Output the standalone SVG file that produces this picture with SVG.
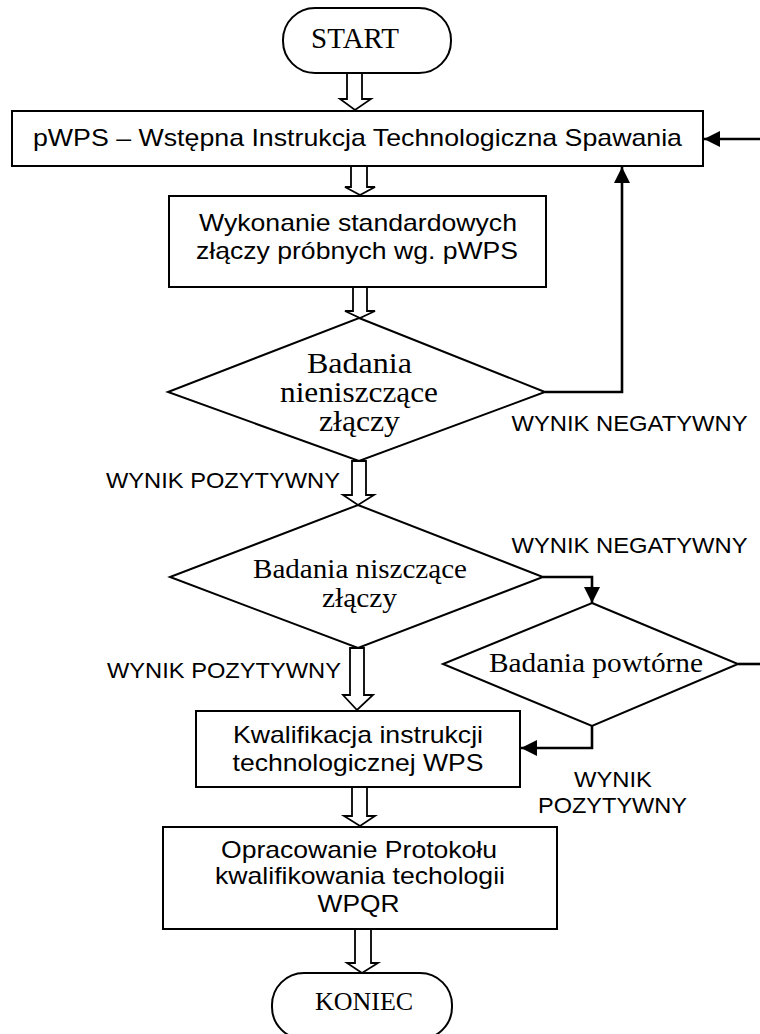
<svg xmlns="http://www.w3.org/2000/svg" width="760" height="1034" viewBox="0 0 760 1034">
<style>
.shape{fill:#fff;stroke:#000;stroke-width:2}
.hollow{fill:#fff;stroke:#000;stroke-width:1.8;stroke-linejoin:miter}
.conn{fill:none;stroke:#000;stroke-width:2.6}
.sans{font-family:"Liberation Sans",Arial,sans-serif;fill:#000;text-anchor:middle}
.serif{font-family:"Liberation Serif","Times New Roman",serif;fill:#000;text-anchor:middle}
.box{font-size:24px}
.lbl{font-size:22.5px}
</style>
<defs>
<marker id="ah" viewBox="0 0 16 16" refX="16" refY="8" markerWidth="16" markerHeight="16" markerUnits="userSpaceOnUse" orient="auto">
<path d="M0,0 L16,8 L0,16 Z" fill="#000"/>
</marker>
</defs>

<g id="connectors">
<path class="hollow" d="M347,73 L347,99 L340,99 L355,110 L371,99 L362,99 L362,73 Z"/>
<path class="hollow" d="M351,166 L351,187 L345,187 L360,195 L375,187 L367,187 L367,166 Z"/>
<path class="hollow" d="M353,287 L353,311 L345,311 L360,318 L375,311 L367,311 L367,287 Z"/>
<path class="hollow" d="M352,461 L352,495 L343,495 L358,505 L374,495 L366,495 L366,461 Z"/>
<path class="hollow" d="M350,648 L350,695 L343,695 L357,710 L373,695 L364,695 L364,648 Z"/>
<path class="hollow" d="M352,787 L352,816 L344,816 L360,826 L375,816 L367,816 L367,787 Z"/>
<path class="hollow" d="M355,929 L355,963 L347,963 L362,973 L378,963 L371,963 L371,929 Z"/>
<path class="conn" d="M760,139 L704,139" marker-end="url(#ah)"/>
<path class="conn" d="M545,392 L622,392 L622,167" marker-end="url(#ah)"/>
<path class="conn" d="M543,577 L592,577 L592,603" marker-end="url(#ah)"/>
<path class="conn" d="M738,664 L760,664"/>
<path class="conn" d="M592,726 L592,748 L521,748" marker-end="url(#ah)"/>
</g>

<g id="start">
<rect class="shape" x="283" y="8" width="168" height="65" rx="32" ry="32"/>
<text class="serif" x="355" y="48" font-size="29">START</text>
</g>

<g id="pwps">
<rect class="shape" x="12" y="111" width="691" height="55"/>
<text class="sans box" x="357.5" y="146" textLength="649" lengthAdjust="spacingAndGlyphs">pWPS – Wstępna Instrukcja Technologiczna Spawania</text>
</g>

<g id="wykonanie">
<rect class="shape" x="169" y="196" width="377" height="91"/>
<text class="sans box" x="358" y="231" textLength="318" lengthAdjust="spacingAndGlyphs">Wykonanie standardowych</text>
<text class="sans box" x="357" y="259" textLength="322" lengthAdjust="spacingAndGlyphs">złączy próbnych wg. pWPS</text>
</g>

<g id="badania-nieniszczace">
<polygon class="shape" points="359,318 545,392 359,461 168,392"/>
<text class="serif" x="359.5" y="373" font-size="28.5" textLength="105" lengthAdjust="spacingAndGlyphs">Badania</text>
<text class="serif" x="359" y="402" font-size="28.5" textLength="158" lengthAdjust="spacingAndGlyphs">nieniszczące</text>
<text class="serif" x="359.5" y="431" font-size="28.5" textLength="81" lengthAdjust="spacingAndGlyphs">złączy</text>
</g>

<g id="badania-niszczace">
<polygon class="shape" points="358,505 543,577 358,648 170,577"/>
<text class="serif" x="360" y="578" font-size="28" textLength="214" lengthAdjust="spacingAndGlyphs">Badania niszczące</text>
<text class="serif" x="359.5" y="607" font-size="28" textLength="75" lengthAdjust="spacingAndGlyphs">złączy</text>
</g>

<g id="badania-powtorne">
<polygon class="shape" points="592,603 738,664 592,726 443,664"/>
<text class="serif" x="596" y="672" font-size="28" textLength="214" lengthAdjust="spacingAndGlyphs">Badania powtórne</text>
</g>

<g id="kwalifikacja">
<rect class="shape" x="196" y="711" width="324" height="76"/>
<text class="sans box" x="358" y="743" textLength="250" lengthAdjust="spacingAndGlyphs">Kwalifikacja instrukcji</text>
<text class="sans box" x="358" y="771" textLength="251" lengthAdjust="spacingAndGlyphs">technologicznej WPS</text>
</g>

<g id="opracowanie">
<rect class="shape" x="163" y="827" width="394" height="102"/>
<text class="sans box" x="359" y="858" textLength="276" lengthAdjust="spacingAndGlyphs">Opracowanie Protokołu</text>
<text class="sans box" x="360" y="884" textLength="290" lengthAdjust="spacingAndGlyphs">kwalifikowania techologii</text>
<text class="sans box" x="358.5" y="912" textLength="82" lengthAdjust="spacingAndGlyphs">WPQR</text>
</g>

<g id="koniec">
<rect class="shape" x="272" y="973" width="180" height="66" rx="32" ry="32"/>
<text class="serif" x="364" y="1010" font-size="26">KONIEC</text>
</g>

<g id="labels">
<text class="sans lbl" x="629.5" y="431" textLength="236" lengthAdjust="spacingAndGlyphs">WYNIK NEGATYWNY</text>
<text class="sans lbl" x="223" y="488" textLength="234" lengthAdjust="spacingAndGlyphs">WYNIK POZYTYWNY</text>
<text class="sans lbl" x="629.5" y="553" textLength="236" lengthAdjust="spacingAndGlyphs">WYNIK NEGATYWNY</text>
<text class="sans lbl" x="224" y="678" textLength="234" lengthAdjust="spacingAndGlyphs">WYNIK POZYTYWNY</text>
<text class="sans lbl" x="613" y="787" textLength="78" lengthAdjust="spacingAndGlyphs">WYNIK</text>
<text class="sans lbl" x="612.5" y="813" textLength="149" lengthAdjust="spacingAndGlyphs">POZYTYWNY</text>
</g>
</svg>
